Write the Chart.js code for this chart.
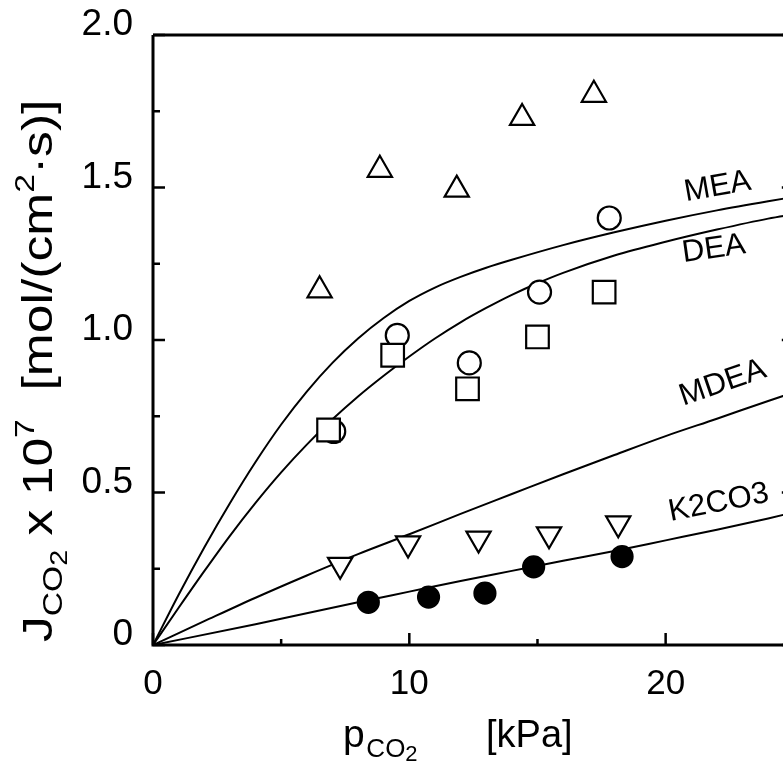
<!DOCTYPE html>
<html>
<head>
<meta charset="utf-8">
<script src="https://cdn.jsdelivr.net/npm/chart.js@4.4.1/dist/chart.umd.min.js"></script>
<style>
  html, body { margin: 0; padding: 0; background: #fff; overflow: hidden; }
  #wrap { width: 812px; height: 762px; }
</style>
</head>
<body>
<div id="wrap"><canvas id="c" width="812" height="762"></canvas></div>
<script>
/* CO2 flux vs CO2 partial pressure — amine / carbonate absorbents */

// axis ticks
const xLabelled = [0, 10, 20];
const yLabelled = [0, 0.5, 1.0, 1.5, 2.0];

// measured points
const upTriX = [6.5, 8.85, 11.85, 14.4, 17.2];
const upTriY = [1.163, 1.558, 1.493, 1.728, 1.804];
const circX = [7.05, 9.53, 12.34, 15.08, 17.8];
const circY = [0.70, 1.015, 0.925, 1.157, 1.40];
const sqX = [6.85, 9.35, 12.27, 15.0, 17.6];
const sqY = [0.705, 0.95, 0.84, 1.01, 1.157];
const downTriX = [7.3, 9.95, 12.7, 15.45, 18.15];
const downTriY = [0.263, 0.333, 0.349, 0.363, 0.399];
const dotX = [8.4, 10.75, 12.95, 14.85, 18.3];
const dotY = [0.14, 0.157, 0.17, 0.256, 0.29];

// model curves
const meaX = [0, 1, 2, 3, 4, 5, 6, 7, 8, 9, 10, 11, 12, 13, 14, 16, 18, 20, 22, 24, 25];
const meaY = [0, 0.165, 0.32, 0.465, 0.6, 0.723, 0.831, 0.925, 1.005, 1.072, 1.128, 1.172, 1.207, 1.237, 1.263, 1.311, 1.353, 1.391, 1.425, 1.455, 1.469];
const deaX = [0, 1, 2, 3, 4, 5, 6, 7, 8, 9, 10, 11, 12, 13, 14, 15, 16, 18, 20, 22, 24, 25];
const deaY = [0, 0.122, 0.242, 0.358, 0.466, 0.566, 0.657, 0.74, 0.815, 0.883, 0.946, 1.005, 1.058, 1.105, 1.148, 1.186, 1.22, 1.277, 1.322, 1.362, 1.398, 1.412];
const mdeaX = [0, 2, 4, 6, 8, 10, 12, 14, 16, 18, 20, 22, 24, 25];
const mdeaY = [0, 0.078, 0.155, 0.228, 0.298, 0.363, 0.43, 0.495, 0.56, 0.623, 0.685, 0.742, 0.8, 0.828];
const k2X = [0, 4, 8, 10, 12, 14, 16, 18, 20, 22, 24, 25];
const k2Y = [0, 0.068, 0.14, 0.175, 0.21, 0.243, 0.276, 0.308, 0.343, 0.378, 0.415, 0.435];

// curve captions (anchor in data units)
const curveNames = ["MEA", "DEA", "MDEA", "K2CO3"];
const nameX = [22.03, 21.88, 22.23, 22.07];
const nameY = [1.502, 1.298, 0.859, 0.466];
const nameRot = [-10, -8, -19, -11];

const FONT = "'Liberation Sans', Arial, sans-serif";
const pts = (xs, ys) => xs.map((x, i) => ({ x, y: ys[i] }));

function marker(xs, ys, style, r, fill, rot) {
  return {
    data: pts(xs, ys), showLine: false, pointStyle: style, pointRadius: r,
    pointRotation: rot || 0, pointBackgroundColor: fill, pointBorderColor: "#000",
    pointBorderWidth: 2.2,
  };
}
function curve(xs, ys) {
  return {
    data: pts(xs, ys), showLine: true, pointRadius: 0, borderColor: "#000",
    borderWidth: 2, cubicInterpolationMode: "monotone", fill: false,
  };
}
function noPad(s) {
  s.paddingTop = s.paddingBottom = s.paddingLeft = s.paddingRight = 0;
}

/* frame, inward ticks, captions and axis titles */
const decor = {
  id: "decor",
  afterDraw(chart) {
    const { ctx, chartArea: a, scales: { x, y } } = chart;
    ctx.save();
    ctx.strokeStyle = "#000";
    ctx.lineWidth = 3;
    ctx.beginPath();
    ctx.moveTo(a.left, a.top); ctx.lineTo(a.left, a.bottom); ctx.lineTo(a.right, a.bottom);
    ctx.moveTo(a.left, a.top); ctx.lineTo(a.right, a.top); ctx.lineTo(a.right, a.bottom);
    ctx.stroke();

    ctx.lineWidth = 2.5;
    ctx.beginPath();
    for (let v = 0; v <= 2.0001; v += 0.25) {
      const py = y.getPixelForValue(v);
      const len = Math.abs(v * 2 - Math.round(v * 2)) < 1e-6 ? 12 : 7;
      ctx.moveTo(a.left, py); ctx.lineTo(a.left + len, py);
      ctx.moveTo(a.right, py); ctx.lineTo(a.right - len, py);
    }
    for (let v = 0; v <= 25; v += 5) {
      const px = x.getPixelForValue(v);
      const len = v % 10 === 0 ? 12 : 6;
      ctx.moveTo(px, a.bottom); ctx.lineTo(px, a.bottom - len);
    }
    ctx.stroke();

    ctx.fillStyle = "#000";
    ctx.textAlign = "center";
    ctx.textBaseline = "middle";
    ctx.font = "31px " + FONT;
    curveNames.forEach((n, i) => {
      ctx.save();
      ctx.translate(x.getPixelForValue(nameX[i]), y.getPixelForValue(nameY[i]));
      ctx.rotate(nameRot[i] * Math.PI / 180);
      ctx.fillText(n, 0, 0);
      ctx.restore();
    });

    // runs of [text, size, baseline shift]
    const run = (parts) => {
      ctx.textAlign = "left";
      ctx.textBaseline = "alphabetic";
      let cx = 0;
      parts.forEach(([t, s, dy]) => {
        ctx.font = s + "px " + FONT;
        ctx.fillText(t, cx, dy);
        cx += ctx.measureText(t).width;
      });
    };

    // x title
    ctx.save();
    ctx.translate(343, 747);
    run([["p", 39, 0], [" ", 6, 0], ["CO", 26, 10], ["2", 22, 14]]);
    ctx.restore();
    ctx.save();
    ctx.translate(486, 747);
    run([["[kPa]", 38, 0]]);
    ctx.restore();

    // y title (rotated, slightly stretched along the text like the scan)
    ctx.save();
    ctx.translate(52, 642);
    ctx.rotate(-Math.PI / 2);
    ctx.scale(1.2, 1);
    run([["J", 43, 0], ["CO", 28, 10], ["2", 24, 15], [" x 10", 43, 0], ["7", 28, -18],
         ["  [mol/(cm", 43, 0], ["2", 28, -18], ["·s)]", 43, 0]]);
    ctx.restore();
    ctx.restore();
  },
};

new Chart(document.getElementById("c"), {
  type: "scatter",
  data: {
    datasets: [
      marker(dotX, dotY, "circle", 10.5, "#000"),
      marker(downTriX, downTriY, "triangle", 14, "#fff", 180),
      marker(sqX, sqY, "rect", 16, "#fff"),
      marker(circX, circY, "circle", 11.5, "#fff"),
      marker(upTriX, upTriY, "triangle", 14, "#fff"),
      curve(meaX, meaY),
      curve(deaX, deaY),
      curve(mdeaX, mdeaY),
      curve(k2X, k2Y),
    ],
  },
  options: {
    responsive: false,
    animation: false,
    devicePixelRatio: 1,
    layout: { padding: { left: 0, top: 35, right: 7, bottom: 0 } },
    plugins: { legend: { display: false }, tooltip: { enabled: false } },
    scales: {
      x: {
        type: "linear", min: 0, max: 25,
        grid: { display: false, drawTicks: false },
        border: { display: false },
        afterFit: (s) => { s.height = 117; noPad(s); },
        afterBuildTicks: (s) => { s.ticks = xLabelled.map((v) => ({ value: v })); },
        ticks: { color: "#000", font: { size: 35, family: FONT }, padding: 18, maxRotation: 0,
                 autoSkip: false, callback: (v) => String(v) },
      },
      y: {
        type: "linear", min: 0, max: 2,
        grid: { display: false, drawTicks: false },
        border: { display: false },
        afterFit: (s) => { s.width = 153; noPad(s); },
        afterBuildTicks: (s) => { s.ticks = yLabelled.map((v) => ({ value: v })); },
        ticks: { color: "#000", font: { size: 37, family: FONT }, padding: 20, labelOffset: -10,
                 callback: (v) => (v === 0 ? "0" : v.toFixed(1)) },
      },
    },
  },
  plugins: [decor],
});
</script>
</body>
</html>
